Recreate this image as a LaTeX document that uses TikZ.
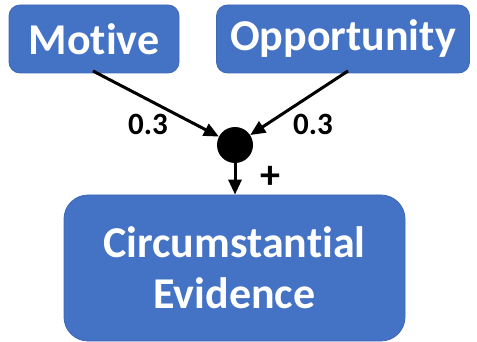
\documentclass[tikz,border=0pt]{standalone}
\usepackage{fontspec}
\setmainfont{Carlito}[Ligatures={NoCommon}]
\usetikzlibrary{arrows.meta}
\definecolor{boxblue}{HTML}{4472C4}
\definecolor{boxedge}{HTML}{3F68B5}
\begin{document}
\begin{tikzpicture}[x=1pt,y=-1pt,
  factor/.style={draw=boxedge,line width=0.8pt,fill=boxblue,rounded corners=11pt,
    text=white,font=\fontsize{44}{48}\selectfont\bfseries,inner sep=0pt},
  link/.style={line width=3pt,-{Triangle[length=15pt,width=13pt]}},
  weight/.style={font=\fontsize{31}{33}\selectfont\bfseries,inner sep=0pt}]
  \useasboundingbox (0,0) rectangle (477,342);
  \node[factor,minimum width=170pt,minimum height=68pt] (motive) at (94,39) {Motive};
  \node[factor,minimum width=253pt,minimum height=68pt] (opp) at (343,39) {Opportunity};
  \node[circle,fill=black,minimum size=36pt,inner sep=0pt] (join) at (235,145) {};
  \node[factor,rounded corners=24pt,minimum width=341pt,minimum height=146pt,
    align=center,font=\fontsize{44}{51}\selectfont\bfseries] (evid) at (234.5,268)
    {Circumstantial\\Evidence};
  \draw[link] (93,71) -- (join);
  \draw[link] (348,71) -- (join);
  \draw[link] (join) -- (evid.north -| join);
  \node[weight] (w1) at (148,124) {0.3};
  \node[weight] (w2) at (313,124) {0.3};
  \node[weight,font=\fontsize{40}{40}\selectfont\bfseries] (plus) at (270,177) {+};
\end{tikzpicture}
\end{document}
